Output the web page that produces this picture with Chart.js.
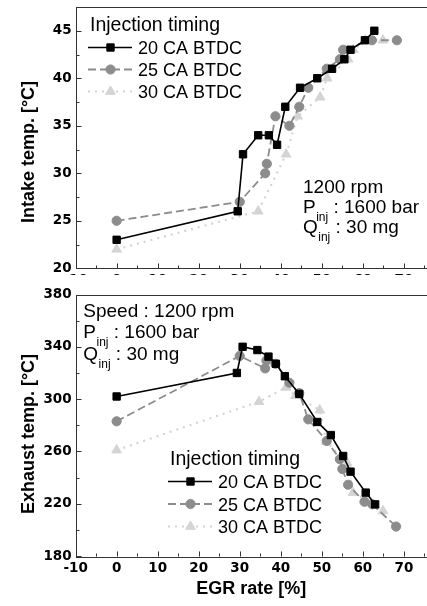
<!DOCTYPE html>
<html>
<head>
<meta charset="utf-8">
<title>EGR rate vs intake / exhaust temperature</title>
<script src="https://cdn.jsdelivr.net/npm/chart.js"></script>
<style>
    body { margin: 0; width: 427px; height: 606px; overflow: hidden; position: relative; background: #fff; }
    canvas { position: absolute; left: 0; background: #fff; }
    #intakeChart { top: 0; }
    #exhaustChart { top: 275px; }
</style>
</head>
<body>
<canvas id="intakeChart" width="431" height="300"></canvas>
<canvas id="exhaustChart" width="431" height="331"></canvas>

<script>
// series names (injection timing)
const timingLabels = ['20 CA BTDC', '25 CA BTDC', '30 CA BTDC'];

// intake temp. [°C] vs EGR rate [%]
const egrIntake20 = [0, 29.5, 30.8, 34.5, 37.1, 39.1, 41.1, 44.7, 48.9, 52.5, 55.5, 57.0, 60.5, 62.8];
const intake20    = [23, 26, 32, 34, 34, 33, 37, 39, 40, 41, 42, 43, 44, 45];
const egrIntake25 = [0, 30.0, 36.2, 36.6, 38.7, 42.1, 44.5, 46.7, 51.2, 54.4, 55.2, 62.2, 68.3];
const intake25    = [25, 27, 30, 31, 36, 35, 37, 39, 41, 42, 43, 44, 44];
const egrIntake30 = [0, 34.5, 41.3, 44.1, 49.6, 51.3, 56.4, 57.7, 60.6, 64.9];
const intake30    = [22, 26, 32, 36, 38, 40, 42, 43, 44, 44];

// exhaust temp. [°C] vs EGR rate [%]
const egrExhaust20 = [0, 29.3, 30.7, 34.3, 37.0, 38.8, 41.0, 44.5, 48.9, 52.2, 55.2, 57.0, 60.7, 63.0];
const exhaust20    = [302, 320, 340, 337.5, 332.5, 327, 317.5, 304, 282.5, 272.5, 256.5, 244.5, 228.5, 219.5];
const egrExhaust25 = [0, 30.0, 36.2, 36.5, 38.7, 42.1, 44.5, 46.7, 51.2, 54.4, 55.0, 56.4, 60.4, 62.3, 68.1];
const exhaust25    = [283, 333, 323.5, 329.5, 327, 312.5, 304.5, 284.5, 268, 254, 246.5, 234.5, 221.5, 219.5, 202.5];
const egrExhaust30 = [0, 34.7, 41.3, 43.6, 49.5, 51.1, 56.2, 57.6, 60.5, 64.9];
const exhaust30    = [261, 298, 309, 302.5, 291.5, 267.5, 251, 228.5, 223.5, 214.5];

// tick labels
const egrTicks = [-10, 0, 10, 20, 30, 40, 50, 60, 70];
const intakeTicks = [20, 25, 30, 35, 40, 45];
const exhaustTicks = [180, 220, 260, 300, 340, 380];

const seriesStyle = [
    { color: '#000000', pointStyle: 'rect', radius: 5.2, dash: [], width: 1.6 },
    { color: '#8c8c8c', pointStyle: 'circle', radius: 4.6, dash: [8, 4], width: 1.8 },
    { color: '#d4d4d4', pointStyle: 'triangle', radius: 5.6, dash: [2, 5], width: 2.2 }
];

const tickFont = { family: '"DejaVu Sans", Verdana, sans-serif', size: 13.5, weight: 'bold' };
const titleFont = 'bold 18px "Liberation Sans", Arial, sans-serif';
const headFont = '19.5px "Liberation Sans", Arial, sans-serif';
const textFont = '18px "Liberation Sans", Arial, sans-serif';
const noteFont = '19px "Liberation Sans", Arial, sans-serif';
const subFont = '12px "Liberation Sans", Arial, sans-serif';

function makeDataset(i, xs, ys) {
    const s = seriesStyle[i];
    return {
        label: timingLabels[i],
        data: xs.map((x, k) => ({ x: x, y: ys[k] })),
        borderColor: s.color,
        backgroundColor: s.color,
        borderWidth: s.width,
        borderDash: s.dash,
        pointStyle: s.pointStyle,
        pointRadius: s.radius,
        pointBorderWidth: 1,
        tension: 0
    };
}

function minorOf(ticks) {
    const step = ticks[1] - ticks[0];
    return ticks.map(v => v + step / 2);
}

// "P" + subscript "inj" + rest
function drawSub(ctx, x, y, main, sub, rest) {
    ctx.font = noteFont;
    ctx.fillText(main, x, y);
    x += ctx.measureText(main).width;
    ctx.font = subFont;
    ctx.fillText(sub, x + 0.5, y + 8);
    x += ctx.measureText(sub).width + 0.5;
    ctx.font = noteFont;
    ctx.fillText(rest, x, y);
}

const figurePlugin = {
    id: 'figure',
    afterDraw(chart, args, o) {
        const { ctx, chartArea: a, scales: { x, y } } = chart;
        ctx.save();

        // box + inward tick marks
        ctx.strokeStyle = '#333';
        ctx.lineWidth = 1;
        ctx.strokeRect(Math.round(a.left) + 0.5, Math.round(a.top) + 0.5, a.right - a.left + 5, Math.round(a.bottom - a.top));
        ctx.beginPath();
        const bottom = Math.round(a.bottom) + 0.5, left = Math.round(a.left) + 0.5;
        egrTicks.forEach(v => { const px = Math.round(x.getPixelForValue(v)) + 0.5; ctx.moveTo(px, bottom); ctx.lineTo(px, bottom - 5); });
        minorOf(egrTicks).forEach(v => { const px = Math.round(x.getPixelForValue(v)) + 0.5; ctx.moveTo(px, bottom); ctx.lineTo(px, bottom - 3); });
        o.yTicks.forEach(v => { const py = Math.round(y.getPixelForValue(v)) + 0.5; ctx.moveTo(left, py); ctx.lineTo(left + 5, py); });
        minorOf(o.yTicks).forEach(v => {
            if (v > y.max) return;
            const py = Math.round(y.getPixelForValue(v)) + 0.5; ctx.moveTo(left, py); ctx.lineTo(left + 3, py);
        });
        ctx.stroke();

        ctx.fillStyle = '#000';
        ctx.textBaseline = 'alphabetic';

        // y axis title
        ctx.save();
        ctx.translate(29.5, o.yTitleY);
        ctx.rotate(-Math.PI / 2);
        ctx.font = titleFont;
        ctx.textAlign = 'center';
        ctx.textBaseline = 'middle';
        ctx.fillText(o.yTitle, 0, 0);
        ctx.restore();

        // x axis title
        if (o.xTitle) {
            ctx.font = titleFont;
            ctx.textAlign = 'center';
            ctx.fillText(o.xTitle, (a.left + 427) / 2, o.xTitleY);
            ctx.textAlign = 'left';
        }

        // legend
        const lg = o.legend;
        ctx.font = headFont;
        ctx.fillText('Injection timing', lg.x, lg.y);
        chart.data.datasets.forEach((ds, i) => {
            const base = lg.y + 23 + i * lg.gap;
            const cy = base - 6.5;
            ctx.save();
            ctx.strokeStyle = ds.borderColor;
            ctx.lineWidth = ds.borderWidth;
            ctx.setLineDash(ds.borderDash);
            ctx.beginPath();
            ctx.moveTo(lg.x - 2, cy);
            ctx.lineTo(lg.x + 42, cy);
            ctx.stroke();
            ctx.setLineDash([]);
            ctx.fillStyle = ds.backgroundColor;
            ctx.lineWidth = 1;
            Chart.helpers.drawPoint(ctx, { pointStyle: ds.pointStyle, radius: ds.pointRadius, borderWidth: 1, rotation: 0 }, lg.x + 20.5, cy);
            ctx.restore();
            ctx.font = textFont;
            ctx.fillText(ds.label, lg.x + 48, base);
        });

        // operating conditions
        const n = o.note;
        ctx.font = noteFont;
        ctx.fillText(n.first, n.x, n.y);
        drawSub(ctx, n.x, n.y + n.gap, 'P', 'inj', ' : 1600 bar');
        drawSub(ctx, n.x, n.y + 2 * n.gap, 'Q', 'inj', ' : 30 mg');

        ctx.restore();
    }
};

function makeChart(id, datasets, yMin, yMax, yTicks, topPad, xHeight, fig) {
    return new Chart(document.getElementById(id), {
        type: 'line',
        data: { datasets: datasets },
        options: {
            responsive: false,
            animation: false,
            devicePixelRatio: 1,
            events: [],
            layout: { padding: { top: topPad, left: 0, right: 0, bottom: 0 } },
            plugins: { legend: { display: false }, tooltip: { enabled: false }, figure: fig },
            scales: {
                x: {
                    type: 'linear', min: -10, max: 75,
                    afterBuildTicks: s => { s.ticks = egrTicks.map(v => ({ value: v })); },
                    afterFit: s => { s.height = xHeight; s.paddingLeft = 0; s.paddingRight = 0; },
                    grid: { display: false, drawTicks: false },
                    border: { display: false },
                    ticks: { font: tickFont, color: '#000', padding: 4, maxRotation: 0, autoSkip: false }
                },
                y: {
                    type: 'linear', min: yMin, max: yMax,
                    afterBuildTicks: s => { s.ticks = yTicks.map(v => ({ value: v })); },
                    afterFit: s => { s.width = 75.6; s.paddingTop = 0; s.paddingBottom = 0; },
                    grid: { display: false, drawTicks: false },
                    border: { display: false },
                    ticks: { font: tickFont, color: '#000', padding: 4, autoSkip: false }
                }
            }
        },
        plugins: [figurePlugin]
    });
}

makeChart('intakeChart', [
    makeDataset(0, egrIntake20, intake20),
    makeDataset(1, egrIntake25, intake25),
    makeDataset(2, egrIntake30, intake30)
], 20, 47.5, intakeTicks, 7, 31.7, {
    yTicks: intakeTicks,
    yTitle: 'Intake temp. [°C]', yTitleY: 152,
    legend: { x: 90, y: 31, gap: 22 },
    note: { first: '1200 rpm', x: 303, y: 193, gap: 20 }
});

makeChart('exhaustChart', [
    makeDataset(0, egrExhaust20, exhaust20),
    makeDataset(1, egrExhaust25, exhaust25),
    makeDataset(2, egrExhaust30, exhaust30)
], 180, 380, exhaustTicks, 19.5, 50, {
    yTicks: exhaustTicks,
    yTitle: 'Exhaust temp. [°C]', yTitleY: 159,
    xTitle: 'EGR rate [%]', xTitleY: 319,
    legend: { x: 170, y: 190, gap: 22.5 },
    note: { first: 'Speed : 1200 rpm', x: 83.3, y: 41.7, gap: 21.7 }
});
</script>
</body>
</html>
